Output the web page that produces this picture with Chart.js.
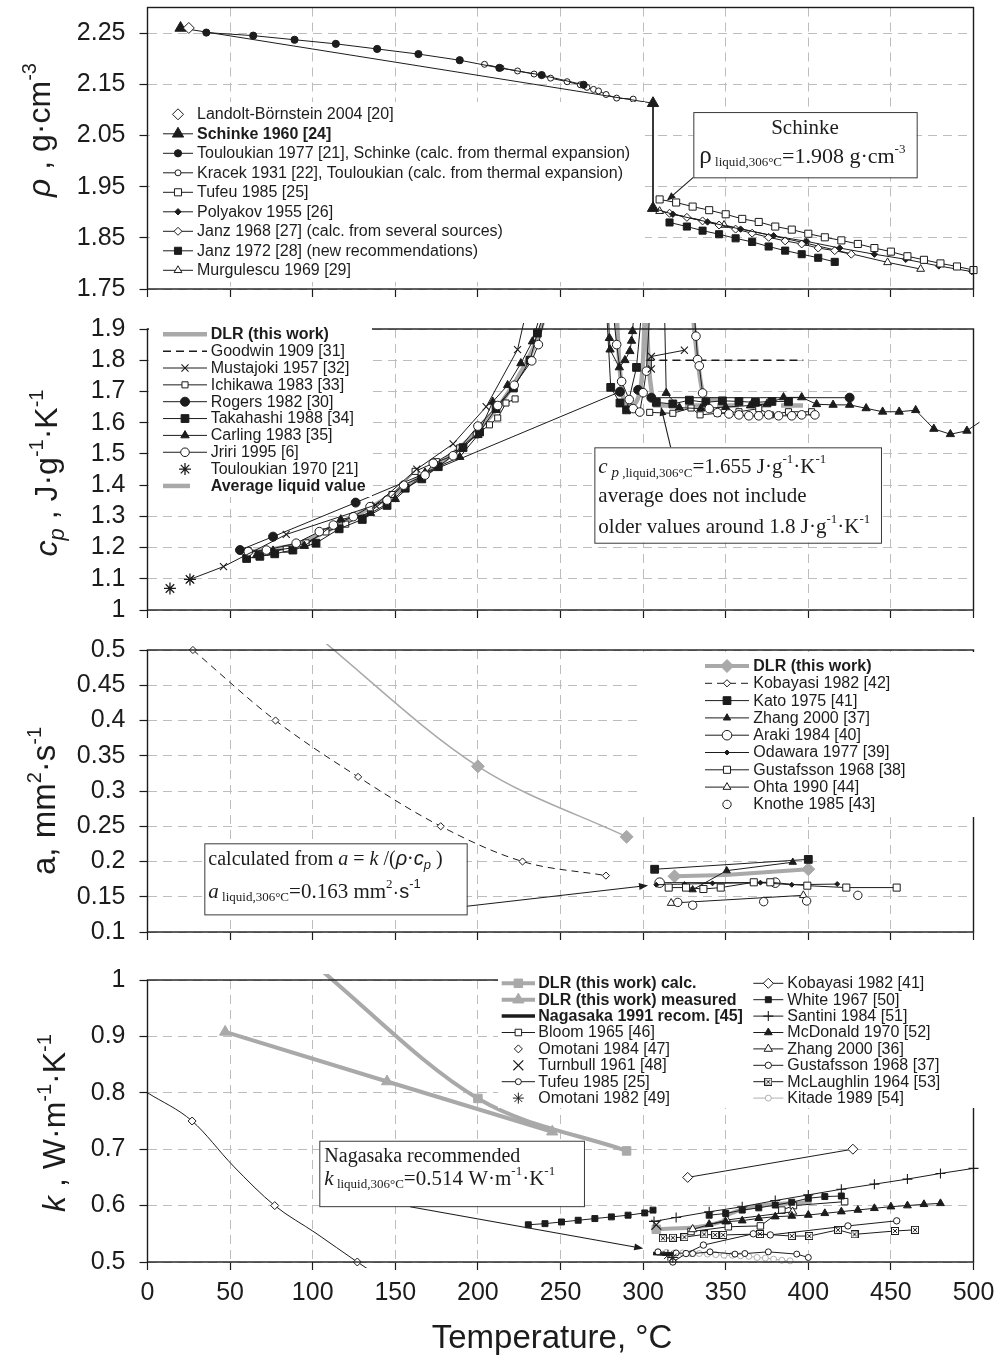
<!DOCTYPE html>
<html>
<head>
<meta charset="utf-8">
<title>NaNO3 properties</title>
<script src="https://cdn.jsdelivr.net/npm/chart.js@4.4.1/dist/chart.umd.min.js"></script>
<style>
html, body { margin: 0; padding: 0; background: #fff; }
#wrap { position: relative; width: 1003px; height: 1356px; overflow: hidden; background: #fff; }
#wrap canvas { position: absolute; left: 0; }
</style>
</head>
<body>
<div id="wrap">
  <canvas id="cRho" width="1003" height="305" style="top:0px"></canvas>
  <canvas id="cCp" width="1003" height="320" style="top:305px"></canvas>
  <canvas id="cA" width="1003" height="320" style="top:625px"></canvas>
  <canvas id="cK" width="1003" height="411" style="top:945px"></canvas>
</div>
<script>
var INK = "#1c1c1c";
var GREY = "#a9a9a9";
var SANS = '"Liberation Sans", Arial, sans-serif';
var SERIF = '"Liberation Serif", "Times New Roman", serif';

function sans(size, style) { return (style ? style + " " : "") + size + "px " + SANS; }
function serif(size, style) { return (style ? style + " " : "") + size + "px " + SERIF; }

// ===== AXES =====
var tempTicks = [0, 50, 100, 150, 200, 250, 300, 350, 400, 450, 500];
var rhoTicks = [1.75, 1.85, 1.95, 2.05, 2.15, 2.25];
var cpTicks = [1, 1.1, 1.2, 1.3, 1.4, 1.5, 1.6, 1.7, 1.8, 1.9];
var aTicks = [0.1, 0.15, 0.2, 0.25, 0.3, 0.35, 0.4, 0.45, 0.5];
var kTicks = [0.5, 0.6, 0.7, 0.8, 0.9, 1];

// ===== 1. DENSITY [T, rho] =====
var rhoLandolt = [[25, 2.26]];
var rhoSchinke = [[20, 2.26], [306, 2.113], [306, 1.908]];
var rhoTouloukian = [[35.6, 2.251], [64, 2.245], [89, 2.237], [114, 2.229], [139, 2.219], [164, 2.209], [189, 2.197], [213, 2.182], [238.6, 2.168], [264, 2.149]];
var rhoKracek = [[204, 2.189], [214, 2.182], [224, 2.176], [234, 2.170], [244, 2.162], [254, 2.155], [262, 2.149], [266, 2.144], [270, 2.140], [273, 2.137], [277.6, 2.130], [284, 2.123], [294, 2.121]];
var rhoTufeu = [[310, 1.925], [320, 1.919], [330, 1.911], [340, 1.904], [350, 1.896], [360, 1.887], [370, 1.881], [380, 1.872], [390, 1.866], [400, 1.858], [410, 1.851], [420, 1.845], [430, 1.838], [440, 1.830], [450, 1.823], [460, 1.814], [470, 1.807], [480, 1.800], [490, 1.794], [500, 1.787]];
var rhoPolyakov = [[306, 1.908], [318, 1.896], [339, 1.881], [359, 1.867], [379, 1.854], [399, 1.843], [419, 1.830], [440, 1.818], [459, 1.808], [479, 1.795], [499, 1.784]];
var rhoJanz68 = [[316, 1.898], [326.5, 1.890], [336, 1.883], [346, 1.875], [356, 1.867], [366, 1.859], [376, 1.851], [386, 1.844], [396, 1.838], [406, 1.830], [416, 1.825], [426, 1.818]];
var rhoJanz72 = [[316, 1.880], [326.5, 1.872], [336, 1.864], [346, 1.857], [356, 1.849], [366, 1.842], [376, 1.833], [386, 1.825], [396, 1.818], [406, 1.811], [416, 1.803]];
var rhoMurgulescu = [[310, 1.902], [349, 1.875], [398, 1.840], [448, 1.802], [468, 1.789]];

// ===== 2. HEAT CAPACITY [T, cp] =====
var cpTouloukian70 = [[13.6, 1.069], [25.7, 1.098]];
var cpMustajoki = [[25.7, 1.098], [46, 1.139], [84, 1.242], [138, 1.336], [163, 1.451], [185, 1.532], [205, 1.651], [224, 1.834], [229, 1.95], [260, null], [305, 1.772], [305, 1.812], [325, 1.832]];
var cpJriri = [[61, 1.187], [72, 1.192], [90, 1.214], [104, 1.251], [112.5, 1.272], [124.6, 1.299], [134.7, 1.331], [145, 1.352], [155, 1.400], [168, 1.432], [173, 1.470], [185, 1.494], [200, 1.589], [212, 1.655], [222, 1.720], [232.6, 1.798], [236.6, 1.850], [241, 1.95], [260, null], [282, 1.95], [284, 1.850], [287, 1.732], [291.6, 1.674], [294, 1.645], [298, 1.634], [300, 1.696], [302, 1.765], [304, 1.95], [318, null], [331, 1.95], [332, 1.877], [333, 1.802], [334, 1.782], [336, 1.695], [340, 1.645], [345, 1.632], [352, 1.628], [358, 1.625], [364, 1.622], [370, 1.622], [376, 1.625], [382, 1.622], [390, 1.622], [396, 1.625], [404, 1.625]];
var cpCarling = [[66, 1.175], [76, 1.19], [95, 1.205], [117, 1.29], [135, 1.31], [150, 1.355], [168, 1.44], [189, 1.49], [200, 1.56], [209, 1.667], [218, 1.72], [226, 1.79], [233, 1.86], [238, 1.95], [260, null], [279, 1.95], [279.6, 1.871], [280, 1.834], [285.6, 1.777], [289, 1.80], [292, 1.829], [293, 1.862], [293.6, 1.893], [294.5, 1.95], [300, null], [313, 1.95], [314, 1.695], [322, 1.648], [335, 1.645], [350, 1.65], [365, 1.655], [375, 1.66], [385, 1.681], [396, 1.681], [405, 1.659], [415, 1.657], [425, 1.657], [435, 1.646], [445, 1.635], [455, 1.635], [465, 1.64], [476, 1.58], [486, 1.563], [496, 1.574], [506, 1.61]];
var cpTakahashi = [[60, 1.165], [68, 1.172], [77, 1.18], [88, 1.192], [102, 1.214], [116, 1.26], [130, 1.29], [145, 1.335], [156, 1.39], [166, 1.42], [176, 1.459], [191, 1.52], [201, 1.57], [211, 1.645], [221.5, 1.711], [231.5, 1.80], [236, 1.887], [240, 1.95], [260, null], [278, 1.95], [280.4, 1.713], [286, 1.663], [290, 1.641], [296, 1.777], [299, 1.95], [303, null], [308, 1.665], [318, 1.66], [328, 1.672], [338, 1.665], [348, 1.67], [358, 1.668], [368, 1.665], [378, 1.668], [388, 1.668]];
var cpRogers = [[56, 1.192], [76, 1.235], [126, 1.344], [286, 1.699], [295, null], [297, 1.705], [305, 1.680], [425, 1.680]];
var cpIchikawa = [[61, 1.19], [72, 1.185], [84, 1.195], [96, 1.215], [108, 1.25], [120, 1.275], [135, 1.315], [148, 1.37], [162, 1.444], [175, 1.475], [189, 1.519], [199, 1.561], [207, 1.593], [212, 1.615], [217, 1.663], [222.5, 1.676], [260, null], [304, 1.633], [318, 1.63], [329, 1.647], [334.5, 1.625], [345, 1.63], [358, 1.635], [370, 1.645], [377, 1.625], [388, 1.635], [402, 1.635]];
var cpGoodwin = [[302, 1.8], [397, 1.8]];
var cpAverage = [[306, 1.655], [400, 1.655]];
var cpDLR = [[60, 1.185], [90, 1.21], [120, 1.285], [150, 1.375], [180, 1.48], [200, 1.575], [215, 1.67], [228, 1.78], [236, 1.87], [241, 1.95], [260, null], [284, 1.95], [285.5, 1.80], [288, 1.68], [292, 1.655], [297, 1.68], [300, 1.80], [301, 1.95], [301.5, null], [302, 1.95], [303.5, 1.78], [306, 1.67], [318, null], [330, 1.95], [333, 1.80], [336, 1.70], [340, 1.675], [350, 1.675]];

// ===== 3. THERMAL DIFFUSIVITY [T, a] =====
var aDLRsolid = [[100, 0.525], [200, 0.335], [290, 0.235]];
var aDLRliquid = [[319, 0.179], [350, 0.181], [400, 0.189]];
var aKobayasi = [[27.5, 0.5], [77.5, 0.4], [127.5, 0.32], [177.5, 0.25], [227, 0.2], [277.5, 0.18]];
var aKato = [[307, 0.189], [400, 0.203]];
var aZhang = [[330, 0.160], [350.6, 0.187], [390.6, 0.199]];
var aAraki = [[310, 0.170], [380, 0.170]];
var aOdawara = [[308, 0.167], [325, 0.168], [342, 0.169], [371, 0.170], [390, 0.167], [417.5, 0.168]];
var aGustafsson = [[315.5, 0.163], [326, 0.163], [336.5, 0.161], [347, 0.163], [367, 0.1705], [377, 0.1705], [399.4, 0.1657], [423, 0.163], [453.5, 0.163]];
var aOhta = [[317, 0.141], [397, 0.152]];
var aKnothe = [[321, 0.142], [330, 0.138], [373, 0.143], [399, 0.144], [430, 0.152]];

// ===== 4. THERMAL CONDUCTIVITY [T, k] =====
var kDLRcalc = [[100, 1.03], [200, 0.79], [290, 0.697], [299, null], [308, 0.558], [348, 0.572], [352, 0.585], [402, 0.607]];
var kDLRmeas = [[47, 0.908], [145, 0.82], [245, 0.731]];
var kNagasaka = [[306, 0.515], [318, 0.513]];
var kBloom = [[329, 0.554], [351.6, 0.5625], [371, 0.564], [384, 0.592], [391, 0.600], [422, 0.607]];
var kOmotani84 = [[27, 0.75], [77, 0.60], [127, 0.50]];
var kKobayasiSolid = [[0, 0.80], [27, 0.75], [52, 0.67], [77, 0.60], [102, 0.551], [127, 0.50], [140, 0.475]];
var kTurnbull = [[308, 0.566]];
var kTufeu = [[309, 0.518], [320, 0.516], [330, 0.515], [340.5, 0.518], [355.6, 0.514], [361.6, 0.515], [375.8, 0.518], [393, 0.514], [400, 0.508]];
var kOmotani82 = [[315, 0.512], [318, 0.508]];
var kKobayasi = [[327, 0.65], [427, 0.70]];
var kWhite = [[230.5, 0.566], [240.6, 0.568], [250.6, 0.571], [260.7, 0.574], [270.8, 0.577], [280.8, 0.580], [290.9, 0.583], [301, 0.587], [306, 0.592], [320, null], [340, 0.583], [350, 0.586], [360, 0.592], [370, 0.596], [380, 0.601], [390, 0.606], [400, 0.613], [410, 0.616], [420, 0.617]];
var kSantini = [[306.6, 0.572], [320, 0.579], [340, 0.589], [360, 0.598], [380, 0.609], [400, 0.619], [420, 0.629], [440, 0.638], [460, 0.647], [480, 0.657], [500, 0.666]];
var kMcDonald = [[340, 0.567], [350, 0.5715], [360, 0.5733], [370, 0.5775], [380, 0.5804], [390, 0.5816], [400, 0.5833], [410, 0.5863], [420, 0.5893], [430, 0.5922], [440, 0.5952], [450, 0.5981], [460, 0.600], [470, 0.6023], [480, 0.604]];
var kZhang = [[330, 0.558], [350.6, 0.5745], [390.5, 0.589]];
var kGustafsson = [[318, 0.50], [326, 0.515], [336.5, 0.530], [366.7, 0.55], [377, 0.548], [424, 0.564], [453.5, 0.573]];
var kMcLaughlin = [[312, 0.542], [318, 0.543], [325, 0.544], [337, 0.549], [343.6, 0.548], [348.5, 0.548], [370.8, 0.5496], [390, 0.546], [400.6, 0.546], [418, 0.557], [428, 0.549], [452.5, 0.555], [464.6, 0.557]];
var kKitade = [[309, 0.518], [314, 0.517], [319, 0.516], [324, 0.516], [329, 0.515], [334, 0.515], [339, 0.514], [344, 0.513], [349, 0.512], [354, 0.512], [359, 0.511], [364, 0.510], [369, 0.508], [374, 0.507], [379, 0.505], [384, 0.503], [389, 0.502]];

// ===== MARKERS =====
var sqx = document.createElement("canvas");
sqx.width = 8; sqx.height = 8;
(function () {
    var g = sqx.getContext("2d");
    g.fillStyle = "#fff"; g.fillRect(0.5, 0.5, 7, 7);
    g.strokeStyle = INK; g.lineWidth = 1; g.strokeRect(0.5, 0.5, 7, 7);
    g.beginPath(); g.moveTo(2, 2); g.lineTo(6, 6); g.moveTo(6, 2); g.lineTo(2, 6); g.stroke();
})();

var MARK = { circle: "circle", square: "rect", tri: "triangle", dia: "rectRot", plus: "cross", x: "crossRot", star: "star", sqx: sqx };

function series(arr, o) {
    var col = o.color || INK;
    return {
        data: arr.map(function (p) { return { x: p[0], y: p[1] }; }),
        showLine: o.line !== false,
        borderColor: col,
        borderWidth: o.w || 1,
        borderDash: o.dash || [],
        pointStyle: o.mk ? MARK[o.mk] : "circle",
        pointRadius: o.radii || o.r || 0,
        pointHoverRadius: o.radii || o.r || 0,
        pointBackgroundColor: o.open ? "#fff" : col,
        pointBorderColor: col,
        pointBorderWidth: o.pw || 1,
        cubicInterpolationMode: o.smooth ? "monotone" : "default",
        tension: 0,
        clip: 6
    };
}

// panel 1
var dRhoLandolt = series(rhoLandolt, { mk: "dia", r: 5.5, open: true, line: false });
var dRhoSchinke = series(rhoSchinke, { mk: "tri", r: 6.5 });
var dRhoTouloukian = series(rhoTouloukian, { mk: "circle", r: 3.6 });
var dRhoKracek = series(rhoKracek, { mk: "circle", r: 3, open: true });
var dRhoTufeu = series(rhoTufeu, { mk: "square", r: 5, open: true });
var dRhoPolyakov = series(rhoPolyakov, { mk: "dia", r: 3.2 });
var dRhoJanz68 = series(rhoJanz68, { mk: "dia", r: 4, open: true });
var dRhoJanz72 = series(rhoJanz72, { mk: "square", r: 5 });
var dRhoMurg = series(rhoMurgulescu, { mk: "tri", r: 4.5, open: true });

// panel 2
var dCpTou = series(cpTouloukian70, { mk: "star", r: 6, line: false, pw: 1.3 });
var dCpMus = series(cpMustajoki, { mk: "x", r: 5, pw: 1.1 });
var dCpJri = series(cpJriri, { mk: "circle", r: 4.3, open: true });
var dCpCar = series(cpCarling, { mk: "tri", r: 4.8 });
var dCpTak = series(cpTakahashi, { mk: "square", r: 5.5 });
var dCpRog = series(cpRogers, { mk: "circle", r: 4.5 });
var dCpIch = series(cpIchikawa, { mk: "square", r: 4.3, open: true });
var dCpGoo = series(cpGoodwin, { w: 1.5, dash: [8, 5] });
var dCpAvg = series(cpAverage, { color: GREY, w: 4.5, dash: [22, 10] });
var dCpDLR = series(cpDLR, { color: GREY, w: 4.5, smooth: true });

// panel 3
var dAKno = series(aKnothe, { mk: "circle", r: 4.2, open: true, line: false });
var dAOht = series(aOhta, { mk: "tri", r: 4.5, open: true });
var dAGus = series(aGustafsson, { mk: "square", r: 5, open: true });
var dAOda = series(aOdawara, { mk: "dia", r: 2.5 });
var dAAra = series(aAraki, { mk: "circle", r: 4.8, open: true });
var dAZha = series(aZhang, { mk: "tri", r: 4.2 });
var dAKat = series(aKato, { mk: "square", r: 5.5 });
var dAKob = series(aKobayasi, { mk: "dia", r: 3.6, open: true, dash: [7, 5], smooth: true });
var dADLRl = series(aDLRliquid, { mk: "dia", color: GREY, w: 4, radii: [6.5, 0, 6.5] });
var dADLRs = series(aDLRsolid, { mk: "dia", color: GREY, w: 1.5, smooth: true, radii: [0, 6.5, 6.5] });

// panel 4
var dKTur = series(kTurnbull, { mk: "x", r: 7, line: false, pw: 1.2 });
var dKOm82 = series(kOmotani82, { mk: "star", r: 5.5, line: false });
var dKOm84 = series(kOmotani84, { mk: "dia", r: 4, open: true, line: false });
var dKKob = series(kKobayasi, { mk: "dia", r: 5, open: true });
var dKWhi = series(kWhite, { mk: "square", r: 4.2 });
var dKSan = series(kSantini, { mk: "plus", r: 5, pw: 1.1 });
var dKMcD = series(kMcDonald, { mk: "tri", r: 4.5 });
var dKZha = series(kZhang, { mk: "tri", r: 4.8, open: true });
var dKBlo = series(kBloom, { mk: "square", r: 4.6, open: true });
var dKGus = series(kGustafsson, { mk: "circle", r: 3.2, open: true });
var dKMcL = series(kMcLaughlin, { mk: "sqx", r: 4 });
var dKTuf = series(kTufeu, { mk: "circle", r: 3, open: true });
var dKNag = series(kNagasaka, { w: 3.5 });
var dKKit = series(kKitade, { mk: "circle", r: 3, open: true, color: "#b0b0b0" });
var dKKobS = series(kKobayasiSolid, { smooth: true });
var dKDLRc = series(kDLRcalc, { mk: "square", color: GREY, w: 4, smooth: true, radii: [0, 6, 6, 0, 6, 0, 0, 0] });
var dKDLRm = series(kDLRmeas, { mk: "tri", r: 6.5, color: GREY, w: 4 });

// ===== DECORATION (legends, notes, titles) =====
function sup(t, size, f) { return { t: t, f: (f || serif)(size), dy: -10 }; }

var DECO = {};
DECO.cRho = {
    top: 0,
    title: { x: 50, y: 130, runs: [{ t: "ρ", f: sans(32, "italic") }, { t: " , g·cm", f: sans(32) }, { t: "-3", f: sans(20), dy: -14 }] },
    notes: [{
        box: [330.4, 465.6, 2.0957, 1.9682], arrow: [330.4, 1.9682, 314.3, 1.9225],
        lines: [
            { center: true, dy: 22.3, runs: [{ t: "Schinke", f: serif(21) }] },
            { dx: 6, dy: 51.3, runs: [{ t: "ρ", f: serif(25) }, { t: " liquid,306°C", f: serif(13), dy: 3 }, { t: "=1.908 g·cm", f: serif(22) }, sup("-3", 13)] }
        ]
    }],
    legend: {
        bg: [150, 102, 645, 282],
        cols: [{ x0: 163, x1: 193, tx: 197, y0: 114.3, dy: 19.5, items: [
            { ds: dRhoLandolt, text: "Landolt-Börnstein 2004 [20]", noLine: true },
            { ds: dRhoSchinke, text: "Schinke 1960 [24]", bold: true },
            { ds: dRhoTouloukian, text: "Touloukian 1977 [21], Schinke (calc. from thermal expansion)" },
            { ds: dRhoKracek, text: "Kracek 1931 [22], Touloukian (calc. from thermal expansion)" },
            { ds: dRhoTufeu, text: "Tufeu 1985 [25]" },
            { ds: dRhoPolyakov, text: "Polyakov 1955 [26]" },
            { ds: dRhoJanz68, text: "Janz 1968 [27] (calc. from several sources)" },
            { ds: dRhoJanz72, text: "Janz 1972 [28] (new recommendations)" },
            { ds: dRhoMurg, text: "Murgulescu 1969 [29]" }
        ] }]
    }
};
DECO.cCp = {
    top: 305,
    title: { x: 57, y: 473, runs: [{ t: "c", f: sans(32, "italic") }, { t: "p", f: sans(22, "italic"), dy: 7 }, { t: " , J·g", f: sans(32) }, { t: "-1", f: sans(20), dy: -14 }, { t: "·K", f: sans(32) }, { t: "-1", f: sans(20), dy: -14 }] },
    notes: [{
        box: [270.5, 444, 1.521, 1.2155], arrow: [316.7, 1.521, 310.8, 1.651],
        lines: [
            { dx: 4, dy: 25.7, runs: [{ t: "c", f: serif(21, "italic") }, { t: " p", f: serif(15, "italic"), dy: 4 }, { t: " ,liquid,306°C", f: serif(13), dy: 4 }, { t: "=1.655 J·g", f: serif(21) }, sup("-1", 13), { t: "·K", f: serif(21) }, sup("-1", 13)] },
            { dx: 4, dy: 54.4, runs: [{ t: "average does not include", f: serif(21) }] },
            { dx: 4, dy: 85.4, runs: [{ t: "older values around 1.8 J·g", f: serif(21) }, sup("-1", 13), { t: "·K", f: serif(21) }, sup("-1", 13)] }
        ]
    }],
    legend: {
        bg: [149, 318, 372, 497],
        cols: [{ x0: 163, x1: 207, tx: 210.7, y0: 334.3, dy: 16.85, items: [
            { ds: dCpDLR, text: "DLR (this work)", bold: true },
            { ds: dCpGoo, text: "Goodwin 1909 [31]" },
            { ds: dCpMus, text: "Mustajoki 1957 [32]" },
            { ds: dCpIch, text: "Ichikawa 1983 [33]" },
            { ds: dCpRog, text: "Rogers 1982 [30]" },
            { ds: dCpTak, text: "Takahashi 1988 [34]" },
            { ds: dCpCar, text: "Carling 1983 [35]" },
            { ds: dCpJri, text: "Jriri 1995 [6]" },
            { ds: dCpTou, text: "Touloukian 1970 [21]", noLine: true },
            { ds: dCpAvg, text: "Average liquid value", bold: true, x1: 190, dash: [] }
        ] }]
    }
};
DECO.cA = {
    top: 625,
    title: { x: 55, y: 801, runs: [{ t: "a, mm", f: sans(33) }, { t: "2", f: sans(20), dy: -14 }, { t: "·s", f: sans(33) }, { t: "-1", f: sans(20), dy: -14 }] },
    notes: [{
        box: [34.4, 193.2, 0.2258, 0.125], arrow: [193.2, 0.1365, 303, 0.166],
        lines: [
            { dx: 4, dy: 21.7, runs: [{ t: "calculated from ", f: serif(20) }, { t: "a", f: serif(20, "italic") }, { t: " = ", f: serif(20) }, { t: "k", f: serif(20, "italic") }, { t: " /(", f: serif(20) }, { t: "ρ", f: sans(20, "italic") }, { t: "·", f: serif(20) }, { t: "c", f: sans(20, "italic") }, { t: "p", f: sans(13, "italic"), dy: 4 }, { t: " )", f: serif(20) }] },
            { dx: 4, dy: 55, runs: [{ t: "a", f: serif(21, "italic") }, { t: " liquid,306°C", f: serif(13), dy: 3 }, { t: "=0.163 mm", f: serif(21) }, sup("2", 13), { t: "·s", f: sans(20) }, sup("-1", 13, sans)] }
        ]
    }],
    legend: {
        bg: [640, 652, 976, 817],
        cols: [{ x0: 705, x1: 749, tx: 753.3, y0: 666, dy: 17.3, items: [
            { ds: dADLRl, text: "DLR (this work)", bold: true },
            { ds: dAKob, text: "Kobayasi 1982 [42]" },
            { ds: dAKat, text: "Kato 1975 [41]" },
            { ds: dAZha, text: "Zhang 2000 [37]" },
            { ds: dAAra, text: "Araki 1984 [40]" },
            { ds: dAOda, text: "Odawara 1977 [39]" },
            { ds: dAGus, text: "Gustafsson 1968 [38]" },
            { ds: dAOht, text: "Ohta 1990 [44]" },
            { ds: dAKno, text: "Knothe 1985 [43]", noLine: true }
        ] }]
    }
};
DECO.cK = {
    top: 945,
    title: { x: 65, y: 1123, runs: [{ t: "k", f: sans(32, "italic") }, { t: " , W·m", f: sans(32) }, { t: "-1", f: sans(20), dy: -14 }, { t: "·K", f: sans(32) }, { t: "-1", f: sans(20), dy: -14 }] },
    xTitle: { x: 552, y: 1348, runs: [{ t: "Temperature, °C", f: sans(33) }] },
    notes: [{
        box: [104, 264.2, 0.715, 0.599], arrow: [158.9, 0.598, 300.1, 0.524],
        lines: [
            { dx: 5, dy: 21, runs: [{ t: "Nagasaka recommended", f: serif(20) }] },
            { dx: 5, dy: 44.3, runs: [{ t: "k", f: serif(21, "italic") }, { t: " liquid,306°C", f: serif(13), dy: 3 }, { t: "=0.514 W·m", f: serif(21) }, sup("-1", 13), { t: "·K", f: serif(21) }, sup("-1", 13)] }
        ]
    }],
    legend: {
        bg: [498, 966, 976, 1108],
        cols: [
            { x0: 501.7, x1: 535, tx: 538.3, y0: 983.3, dy: 16.4, items: [
                { ds: dKDLRc, text: "DLR (this work) calc.", bold: true },
                { ds: dKDLRm, text: "DLR (this work) measured", bold: true },
                { ds: dKNag, text: "Nagasaka 1991 recom. [45]", bold: true },
                { ds: dKBlo, text: "Bloom 1965 [46]" },
                { ds: dKOm84, text: "Omotani 1984 [47]", noLine: true },
                { ds: dKTur, text: "Turnbull 1961 [48]", noLine: true },
                { ds: dKTuf, text: "Tufeu 1985 [25]" },
                { ds: dKOm82, text: "Omotani 1982 [49]", noLine: true }
            ] },
            { x0: 753.3, x1: 783.3, tx: 787.3, y0: 983.3, dy: 16.4, items: [
                { ds: dKKob, text: "Kobayasi 1982 [41]" },
                { ds: dKWhi, text: "White 1967 [50]" },
                { ds: dKSan, text: "Santini 1984 [51]" },
                { ds: dKMcD, text: "McDonald 1970 [52]" },
                { ds: dKZha, text: "Zhang 2000 [36]" },
                { ds: dKGus, text: "Gustafsson 1968 [37]" },
                { ds: dKMcL, text: "McLaughlin 1964 [53]" },
                { ds: dKKit, text: "Kitade 1989 [54]" }
            ] }
        ]
    }
};

function drawRich(ctx, runs, x, y, align) {
    var w = 0;
    runs.forEach(function (r) { ctx.font = r.f; w += ctx.measureText(r.t).width; });
    var cx = align === "center" ? x - w / 2 : x;
    runs.forEach(function (r) {
        ctx.font = r.f;
        ctx.fillText(r.t, cx, y + (r.dy || 0));
        cx += ctx.measureText(r.t).width;
    });
}

function arrow(ctx, x0, y0, x1, y1) {
    var ang = Math.atan2(y1 - y0, x1 - x0), L = 9, W = 3.5;
    ctx.strokeStyle = INK; ctx.lineWidth = 1.1; ctx.setLineDash([]);
    ctx.beginPath(); ctx.moveTo(x0, y0); ctx.lineTo(x1 - Math.cos(ang) * L * 0.8, y1 - Math.sin(ang) * L * 0.8); ctx.stroke();
    ctx.beginPath(); ctx.moveTo(x1, y1);
    ctx.lineTo(x1 - L * Math.cos(ang) + W * Math.sin(ang), y1 - L * Math.sin(ang) - W * Math.cos(ang));
    ctx.lineTo(x1 - L * Math.cos(ang) - W * Math.sin(ang), y1 - L * Math.sin(ang) + W * Math.cos(ang));
    ctx.closePath(); ctx.fillStyle = INK; ctx.fill();
}

function drawMark(ctx, ds, x, y) {
    var r = ds.pointRadius;
    if (Array.isArray(r)) r = Math.max.apply(null, r);
    if (!r) return;
    var ps = ds.pointStyle;
    ctx.save();
    ctx.setLineDash([]);
    ctx.lineWidth = ds.pointBorderWidth;
    ctx.strokeStyle = ds.pointBorderColor;
    ctx.fillStyle = ds.pointBackgroundColor;
    if (typeof ps !== "string") {
        ctx.drawImage(ps, x - ps.width / 2, y - ps.height / 2);
        ctx.restore();
        return;
    }
    var s = r * Math.SQRT1_2, fill = true;
    ctx.beginPath();
    if (ps === "circle") ctx.arc(x, y, r, 0, 2 * Math.PI);
    else if (ps === "rect") ctx.rect(x - s, y - s, 2 * s, 2 * s);
    else if (ps === "rectRot") { ctx.moveTo(x - r, y); ctx.lineTo(x, y - r); ctx.lineTo(x + r, y); ctx.lineTo(x, y + r); ctx.closePath(); }
    else if (ps === "triangle") { ctx.moveTo(x, y - r); ctx.lineTo(x + r * 0.866, y + r / 2); ctx.lineTo(x - r * 0.866, y + r / 2); ctx.closePath(); }
    else {
        fill = false;
        if (ps === "cross" || ps === "star") { ctx.moveTo(x, y - r); ctx.lineTo(x, y + r); ctx.moveTo(x - r, y); ctx.lineTo(x + r, y); }
        if (ps === "crossRot" || ps === "star") { ctx.moveTo(x - s, y - s); ctx.lineTo(x + s, y + s); ctx.moveTo(x + s, y - s); ctx.lineTo(x - s, y + s); }
    }
    if (fill) ctx.fill();
    ctx.stroke();
    ctx.restore();
}

var decoPlugin = {
    id: "deco",
    afterDatasetsDraw: function (chart) {
        var d = DECO[chart.canvas.id];
        if (!d) return;
        var ctx = chart.ctx, a = chart.chartArea, xs = chart.scales.x, ys = chart.scales.y;
        ctx.save();
        ctx.setLineDash([]);
        ctx.strokeStyle = INK; ctx.lineWidth = 1.4;
        ctx.strokeRect(a.left, a.top, a.right - a.left, a.bottom - a.top);

        // notes with arrows
        d.notes.forEach(function (n) {
            var x0 = xs.getPixelForValue(n.box[0]), x1 = xs.getPixelForValue(n.box[1]);
            var y0 = ys.getPixelForValue(n.box[2]), y1 = ys.getPixelForValue(n.box[3]);
            arrow(ctx, xs.getPixelForValue(n.arrow[0]), ys.getPixelForValue(n.arrow[1]), xs.getPixelForValue(n.arrow[2]), ys.getPixelForValue(n.arrow[3]));
            ctx.fillStyle = "#fff"; ctx.fillRect(x0, y0, x1 - x0, y1 - y0);
            ctx.strokeStyle = "#3a3a3a"; ctx.lineWidth = 1; ctx.strokeRect(x0 + 0.5, y0 + 0.5, x1 - x0, y1 - y0);
            ctx.fillStyle = INK; ctx.textBaseline = "alphabetic";
            n.lines.forEach(function (l) {
                if (l.center) drawRich(ctx, l.runs, (x0 + x1) / 2, y0 + l.dy, "center");
                else drawRich(ctx, l.runs, x0 + l.dx, y0 + l.dy, "left");
            });
        });

        // legend
        var lg = d.legend;
        ctx.fillStyle = "#fff";
        ctx.fillRect(lg.bg[0], lg.bg[1] - d.top, lg.bg[2] - lg.bg[0], lg.bg[3] - lg.bg[1]);
        lg.cols.forEach(function (col) {
            col.items.forEach(function (it, i) {
                var y = col.y0 + i * col.dy - d.top, ds = it.ds;
                if (!it.noLine) {
                    ctx.save();
                    ctx.strokeStyle = ds.borderColor; ctx.lineWidth = ds.borderWidth;
                    ctx.setLineDash(it.dash || ds.borderDash);
                    ctx.beginPath(); ctx.moveTo(col.x0, y); ctx.lineTo(it.x1 || col.x1, y); ctx.stroke();
                    ctx.restore();
                }
                drawMark(ctx, ds, (col.x0 + col.x1) / 2, y);
                ctx.fillStyle = INK; ctx.textBaseline = "middle";
                ctx.font = sans(16, it.bold ? "bold" : "");
                ctx.fillText(it.text, col.tx, y + 0.5);
            });
        });
        ctx.restore();
    },
    afterDraw: function (chart) {
        var d = DECO[chart.canvas.id];
        if (!d) return;
        var ctx = chart.ctx;
        ctx.save();
        ctx.fillStyle = INK; ctx.textBaseline = "alphabetic";
        ctx.translate(d.title.x, d.title.y - d.top);
        ctx.rotate(-Math.PI / 2);
        drawRich(ctx, d.title.runs, 0, 0, "center");
        ctx.restore();
        if (d.xTitle) {
            ctx.save();
            ctx.fillStyle = INK; ctx.textBaseline = "alphabetic";
            drawRich(ctx, d.xTitle.runs, d.xTitle.x, d.xTitle.y - d.top, "center");
            ctx.restore();
        }
    }
};

// ===== CHARTS =====
function makePanel(id, top, height, areaTop, areaBottom, yMin, yMax, yTicks, yFmt, showX, sets) {
    var gridOpts = { color: "#bdbdbd", lineWidth: 1, tickColor: INK, tickLength: 8, tickWidth: 1.2 };
    return new Chart(document.getElementById(id), {
        type: "scatter",
        data: { datasets: sets },
        options: {
            responsive: false,
            animation: false,
            devicePixelRatio: 1,
            events: [],
            layout: { padding: { top: areaTop - top, left: 0, right: 29.5, bottom: 0 } },
            plugins: { legend: { display: false }, tooltip: { enabled: false } },
            scales: {
                x: {
                    type: "linear", min: 0, max: 500,
                    afterBuildTicks: function (ax) { ax.ticks = tempTicks.map(function (v) { return { value: v }; }); },
                    ticks: { display: showX, autoSkip: false, maxRotation: 0, padding: 8, color: INK, font: { size: 25, family: SANS } },
                    grid: gridOpts,
                    border: { display: false, dash: [9, 6] },
                    afterFit: function (ax) { ax.height = top + height - areaBottom; ax.paddingLeft = 0; ax.paddingRight = 0; }
                },
                y: {
                    type: "linear", min: yMin, max: yMax,
                    afterBuildTicks: function (ax) { ax.ticks = yTicks.map(function (v) { return { value: v }; }); },
                    ticks: { autoSkip: false, padding: 14, color: INK, font: { size: 25, family: SANS }, callback: function (v) { return yFmt(v); } },
                    grid: gridOpts,
                    border: { display: false, dash: [9, 6] },
                    afterFit: function (ax) { ax.width = 147.5; ax.paddingTop = 0; ax.paddingBottom = 0; }
                }
            }
        },
        plugins: [decoPlugin]
    });
}

function fix2(v) { return v.toFixed(2); }
function plain(v) { return String(Math.round(v * 100) / 100); }

makePanel("cRho", 0, 305, 7, 289, 1.75, 2.30, rhoTicks, fix2, false,
    [dRhoLandolt, dRhoSchinke, dRhoTouloukian, dRhoKracek, dRhoTufeu, dRhoPolyakov, dRhoJanz68, dRhoJanz72, dRhoMurg]);
makePanel("cCp", 305, 320, 329, 610, 1, 1.9, cpTicks, plain, false,
    [dCpTou, dCpMus, dCpJri, dCpCar, dCpTak, dCpRog, dCpIch, dCpGoo, dCpAvg, dCpDLR]);
makePanel("cA", 625, 320, 650, 932, 0.1, 0.5, aTicks, plain, false,
    [dAKno, dAOht, dAGus, dAOda, dAAra, dAZha, dAKat, dAKob, dADLRl, dADLRs]);
makePanel("cK", 945, 411, 980, 1262, 0.5, 1, kTicks, plain, true,
    [dKTur, dKOm82, dKOm84, dKKob, dKWhi, dKSan, dKMcD, dKZha, dKBlo, dKGus, dKMcL, dKTuf, dKNag, dKKit, dKKobS, dKDLRc, dKDLRm]);
</script>
</body>
</html>
